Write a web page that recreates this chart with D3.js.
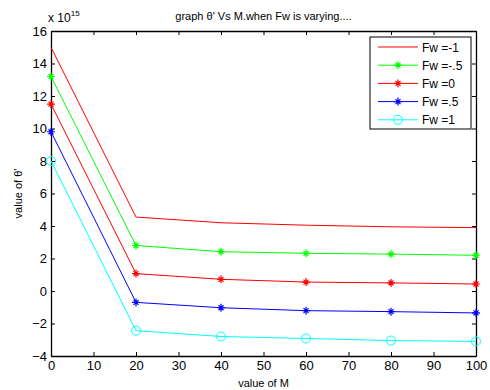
<!DOCTYPE html>
<html>
<head>
<meta charset="utf-8">
<script src="https://cdn.jsdelivr.net/npm/d3@7"></script>
<style>
  body { margin: 0; background: #fff; }
  svg { font-family: "Liberation Sans", Arial, sans-serif; }
</style>
</head>
<body>
<div id="chart"></div>
<script>
// chart values (y in units of 1e15)
const mValues = [0, 20, 40, 60, 80, 100];
const fwLabels = ["Fw =-1", "Fw =-.5", "Fw =0", "Fw =.5", "Fw =1"];
const fwMinus1 = [15.0, 4.55, 4.2, 4.05, 3.95, 3.9];
const fwMinus05 = [13.2, 2.8, 2.42, 2.32, 2.27, 2.2];
const fwZero = [11.5, 1.07, 0.72, 0.55, 0.5, 0.43];
const fwPlus05 = [9.8, -0.7, -1.03, -1.21, -1.27, -1.35];
const fwPlus1 = [8.0, -2.44, -2.8, -2.92, -3.05, -3.1];
const xTicks = [0, 10, 20, 30, 40, 50, 60, 70, 80, 90, 100];
const yTicks = [-4, -2, 0, 2, 4, 6, 8, 10, 12, 14, 16];

const series = [
  { label: fwLabels[0], values: fwMinus1, color: "#ff0000", marker: "none" },
  { label: fwLabels[1], values: fwMinus05, color: "#00ff00", marker: "star" },
  { label: fwLabels[2], values: fwZero, color: "#ff0000", marker: "star" },
  { label: fwLabels[3], values: fwPlus05, color: "#0000ff", marker: "star" },
  { label: fwLabels[4], values: fwPlus1, color: "#00ffff", marker: "circle" }
];

const W = 490, H = 390;
const margin = { top: 31, right: 14, bottom: 34, left: 51 };
const width = W - margin.left - margin.right;
const height = H - margin.top - margin.bottom;

const svg = d3.select("#chart").append("svg")
  .attr("width", W).attr("height", H);

const g = svg.append("g")
  .attr("transform", "translate(" + margin.left + "," + margin.top + ")");

const x = d3.scaleLinear().domain([0, 100]).range([0, width]);
const y = d3.scaleLinear().domain([-4, 16]).range([height, 0]);

// axes, matlab style: ticks pointing inward on all four sides
const tickLen = 4;
g.append("g")
  .attr("transform", "translate(0," + height + ")")
  .call(d3.axisBottom(x).tickValues(xTicks).tickSizeInner(-tickLen).tickSizeOuter(0).tickPadding(5));
g.append("g")
  .call(d3.axisLeft(y).tickValues(yTicks).tickSizeInner(-tickLen).tickSizeOuter(0).tickPadding(4));
g.append("g")
  .call(d3.axisTop(x).tickValues(xTicks).tickSizeInner(-tickLen).tickSizeOuter(0).tickFormat(""));
g.append("g")
  .attr("transform", "translate(" + width + ",0)")
  .call(d3.axisRight(y).tickValues(yTicks).tickSizeInner(-tickLen).tickSizeOuter(0).tickFormat(""));

g.selectAll(".domain").attr("stroke", "#000").attr("stroke-width", 1.3);
g.selectAll(".tick line").attr("stroke", "#000");
g.selectAll(".tick text").attr("font-size", 13).attr("fill", "#000")
  .attr("font-family", "'Liberation Sans', Arial, sans-serif");

// lines
const line = d3.line().x((d, i) => x(mValues[i])).y(d => y(d));

function drawMarker(sel, type, color) {
  if (type === "star") {
    sel.append("path")
      .attr("d", "M-4,0H4M0,-4V4M-2.5,-2.5L2.5,2.5M-2.5,2.5L2.5,-2.5")
      .attr("stroke", color).attr("stroke-width", 1.2).attr("fill", "none");
  } else if (type === "circle") {
    sel.append("circle").attr("r", 4.5)
      .attr("stroke", color).attr("stroke-width", 1).attr("fill", "none");
  }
}

series.forEach(s => {
  g.append("path")
    .datum(s.values)
    .attr("d", line)
    .attr("fill", "none")
    .attr("stroke", s.color)
    .attr("stroke-width", 1);
  if (s.marker !== "none") {
    g.selectAll(null)
      .data(s.values)
      .enter()
      .append("g")
      .attr("transform", (d, i) => "translate(" + x(mValues[i]) + "," + y(d) + ")")
      .each(function () { drawMarker(d3.select(this), s.marker, s.color); });
  }
});

// exponent label
const expo = svg.append("text")
  .attr("x", margin.left - 3).attr("y", 22)
  .attr("font-size", 12).attr("fill", "#000");
expo.append("tspan").text("x 10");
expo.append("tspan").attr("dy", -6).attr("font-size", 8).text("15");

// title and axis labels
svg.append("text")
  .attr("x", margin.left + width / 2).attr("y", 20)
  .attr("text-anchor", "middle").attr("font-size", 11)
  .text("graph θ' Vs M.when Fw is varying....");

svg.append("text")
  .attr("x", margin.left + width / 2).attr("y", 387)
  .attr("text-anchor", "middle").attr("font-size", 11)
  .text("value of M");

svg.append("text")
  .attr("transform", "translate(22," + (margin.top + height / 2) + ") rotate(-90)")
  .attr("text-anchor", "middle").attr("font-size", 11)
  .text("value of θ'");

// legend
const legend = svg.append("g").attr("transform", "translate(370,37)");
legend.append("rect")
  .attr("width", 101).attr("height", 92)
  .attr("fill", "#fff").attr("stroke", "#000").attr("stroke-width", 1);

series.forEach((s, i) => {
  const ly = 10 + i * 18.2;
  const row = legend.append("g").attr("transform", "translate(0," + ly + ")");
  row.append("line")
    .attr("x1", 8).attr("x2", 48).attr("y1", 0).attr("y2", 0)
    .attr("stroke", s.color).attr("stroke-width", 1);
  drawMarker(row.append("g").attr("transform", "translate(28,0)"), s.marker, s.color);
  row.append("text")
    .attr("x", 52).attr("y", 4.5)
    .attr("font-size", 12).text(s.label);
});
</script>
</body>
</html>
